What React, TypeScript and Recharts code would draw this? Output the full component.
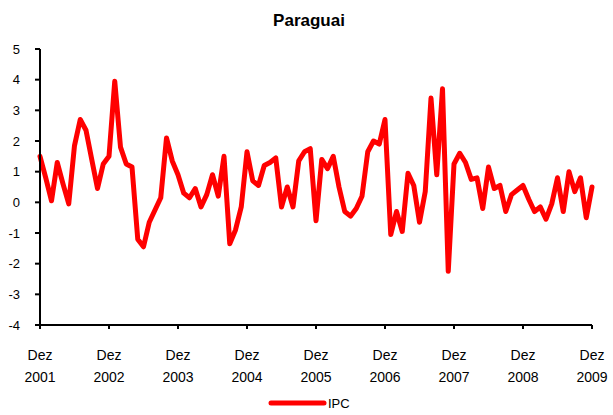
import React from "react";
import { LineChart, Line, XAxis, YAxis, Legend } from "recharts";

const months: number[] = Array.from({ length: 97 }, (_, i) => i);
const ipcValues: number[] = [
  1.5, 0.8, 0.05, 1.3, 0.6, -0.05, 1.85, 2.7, 2.35, 1.4, 0.45, 1.25,
  1.5, 3.95, 1.8, 1.25, 1.15, -1.2, -1.45, -0.65, -0.25, 0.15, 2.1, 1.35,
  0.9, 0.3, 0.15, 0.45, -0.15, 0.25, 0.9, 0.2, 1.5, -1.35, -0.9, -0.15,
  1.65, 0.7, 0.55, 1.2, 1.3, 1.45, -0.15, 0.5, -0.15, 1.35, 1.65, 1.75,
  -0.6, 1.4, 1.1, 1.5, 0.5, -0.3, -0.45, -0.2, 0.2, 1.65, 2.0, 1.9,
  2.7, -1.05, -0.3, -0.95, 0.95, 0.55, -0.65, 0.35, 3.4, 0.9, 3.7, -2.25,
  1.25, 1.6, 1.3, 0.75, 0.8, -0.2, 1.15, 0.45, 0.55, -0.3, 0.25, 0.4,
  0.55, 0.1, -0.3, -0.15, -0.55, -0.05, 0.8, -0.3, 1.0, 0.35, 0.8, -0.5,
  0.5,
];
const xTicks: number[] = [0, 12, 24, 36, 48, 60, 72, 84, 96];
const xTickLabels: string[] = [
  "Dez 2001", "Dez 2002", "Dez 2003", "Dez 2004", "Dez 2005",
  "Dez 2006", "Dez 2007", "Dez 2008", "Dez 2009",
];
const yTicks: number[] = [-4, -3, -2, -1, 0, 1, 2, 3, 4, 5];

const data = months.map((m, i) => ({ m, IPC: ipcValues[i] }));

const FONT = "'Liberation Sans', Arial, sans-serif";

const XTick = (props: any) => {
  const { x, y, payload } = props;
  const idx = xTicks.indexOf(payload.value);
  const label = idx >= 0 ? xTickLabels[idx] : "";
  const [l1, l2] = label.split(" ");
  return (
    <text x={x} y={y} textAnchor="middle" fontFamily={FONT} fontSize={14} fill="#000">
      <tspan x={x} dy={29}>{l1}</tspan>
      <tspan x={x} dy={22}>{l2}</tspan>
    </text>
  );
};

const LegendContent = () => (
  <div style={{ height: 20, position: "relative", width: 613 }}>
    <svg width={613} height={20} style={{ display: "block" }}>
      <line x1={271} y1={10} x2={324} y2={10} stroke="#FF0000" strokeWidth={5} strokeLinecap="round" />
      <text x={328} y={15} fontFamily={FONT} fontSize={13} fill="#000">IPC</text>
    </svg>
  </div>
);

export default function App() {
  return (
    <div style={{ position: "absolute", left: 0, top: 0, width: 613, height: 415, background: "#fff" }}>
      <LineChart
        width={613}
        height={415}
        data={data}
        margin={{ top: 49, right: 21, bottom: 50, left: 0 }}
      >
        <text x={309} y={26} textAnchor="middle" fontFamily={FONT} fontSize={17} fontWeight="bold" fill="#000">
          Paraguai
        </text>
        <XAxis
          dataKey="m"
          type="number"
          domain={[0, 96]}
          ticks={xTicks}
          interval={0}
          axisLine={{ stroke: "#000", strokeWidth: 2 }}
          tickLine={{ stroke: "#000", strokeWidth: 2 }}
          tickSize={4}
          tick={<XTick />}
          height={20}
        />
        <YAxis
          type="number"
          domain={[-4, 5]}
          ticks={yTicks}
          interval={0}
          width={40}
          axisLine={{ stroke: "#000", strokeWidth: 2 }}
          tickLine={{ stroke: "#000", strokeWidth: 2 }}
          tickSize={5}
          tickMargin={15}
          tick={{ fontFamily: FONT, fontSize: 13, fill: "#000" }}
        />
        <Legend
          verticalAlign="bottom"
          content={<LegendContent />}
          wrapperStyle={{ position: "absolute", top: 393, left: 0, bottom: "auto", width: 613 }}
        />
        <Line
          type="linear"
          dataKey="IPC"
          stroke="#FF0000"
          strokeWidth={5}
          dot={false}
          activeDot={false}
          isAnimationActive={false}
          strokeLinejoin="round"
          strokeLinecap="round"
        />
      </LineChart>
    </div>
  );
}
